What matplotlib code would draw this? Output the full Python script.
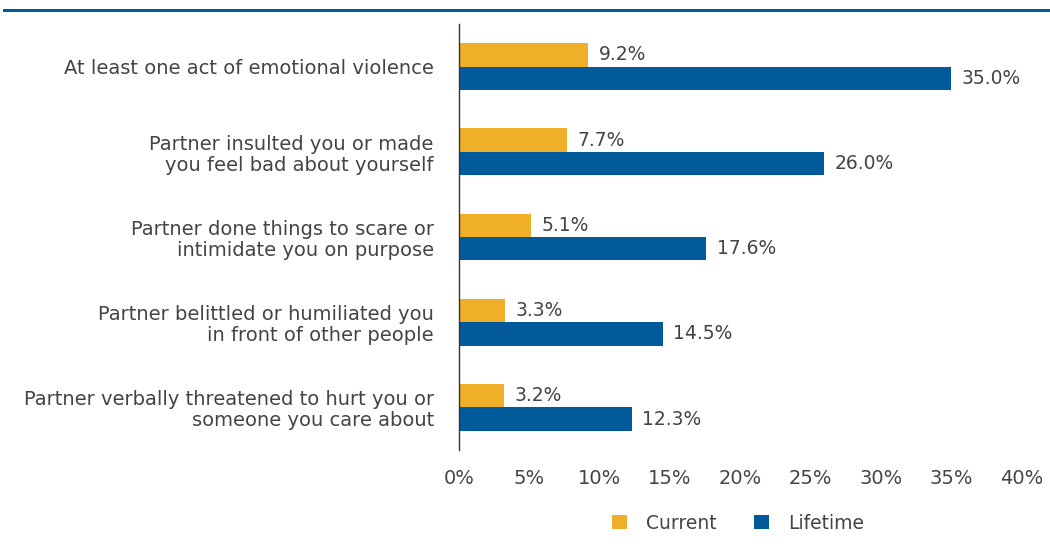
import matplotlib.pyplot as plt
import numpy as np

categories = [
    "At least one act of emotional violence",
    "Partner insulted you or made\nyou feel bad about yourself",
    "Partner done things to scare or\nintimidate you on purpose",
    "Partner belittled or humiliated you\nin front of other people",
    "Partner verbally threatened to hurt you or\nsomeone you care about",
]
current = [9.2, 7.7, 5.1, 3.3, 3.2]
lifetime = [35.0, 26.0, 17.6, 14.5, 12.3]
xticks = [0, 5, 10, 15, 20, 25, 30, 35, 40]

ORANGE = "#F0AF28"
BLUE = "#035A9B"
GREY = "#444444"
FS = 13.5

plt.rcParams['font.family'] = ['DejaVu Sans']

fig = plt.figure(figsize=(10.5, 5.44), dpi=100)
ax = fig.add_axes([0.437, 0.1728, 0.5356, 0.7831])

y = np.arange(len(categories))
h = 0.275
ax.barh(y - h / 2, current, height=h, color=ORANGE, label="Current")
ax.barh(y + h / 2, lifetime, height=h, color=BLUE, label="Lifetime")

for yi, v in zip(y, current):
    ax.text(v + 0.75, yi - h / 2, f"{v:.1f}%", va='center', ha='left',
            fontsize=FS, color=GREY)
for yi, v in zip(y, lifetime):
    ax.text(v + 0.75, yi + h / 2, f"{v:.1f}%", va='center', ha='left',
            fontsize=FS, color=GREY)

ax.set_ylim(len(categories) - 0.5, -0.5)
ax.set_xlim(0, 40)
ax.set_yticks(y)
ax.set_yticklabels(categories, fontsize=14, color=GREY, linespacing=1.12)
ax.set_xticks(xticks)
ax.set_xticklabels([f"{t}%" for t in xticks], fontsize=14, color=GREY)
ax.tick_params(axis='both', length=0)
ax.tick_params(axis='y', pad=18)
ax.tick_params(axis='x', pad=14)
for s in ['top', 'right', 'bottom']:
    ax.spines[s].set_visible(False)
ax.spines['left'].set_color('#333333')
ax.spines['left'].set_linewidth(1.0)

fig.legend(loc='center', bbox_to_anchor=(0.703, 0.038), ncol=2, frameon=False,
           fontsize=FS, handlelength=0.8, handleheight=0.8, columnspacing=2.0,
           handletextpad=1.0, labelcolor=GREY)

# rule across the top
fig.add_artist(plt.Line2D([0.004, 1.0], [0.981, 0.981], color=BLUE,
                          linewidth=2.2, transform=fig.transFigure))

fig.savefig("out.png", dpi=100)
